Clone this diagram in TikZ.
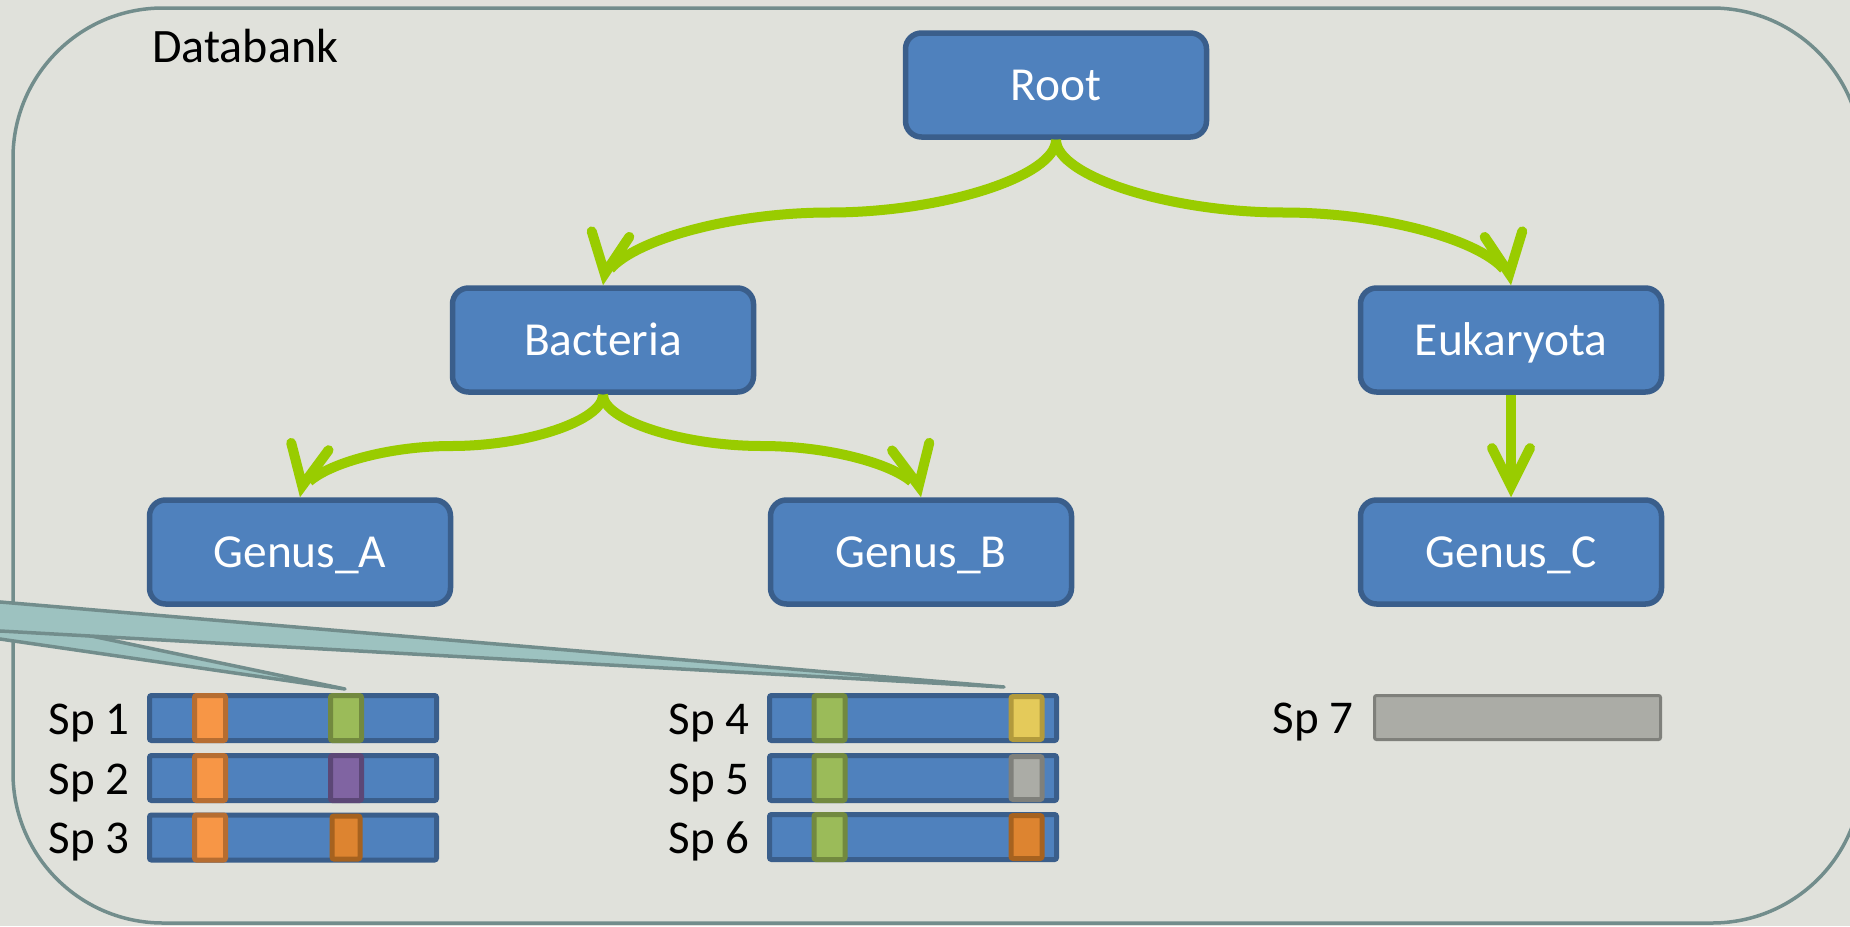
\documentclass[tikz,border=0pt]{standalone}
\usepackage{fontspec}
\setmainfont{Carlito}
\usetikzlibrary{arrows.meta,bending,calc}
\definecolor{bgc}{HTML}{E0E1DB}
\definecolor{frame}{HTML}{728D8C}
\definecolor{callfill}{HTML}{9DC2C0}
\definecolor{nodeblue}{HTML}{4F81BD}
\definecolor{nodeedge}{HTML}{3A5E8B}
\definecolor{agreen}{HTML}{99CC00}
\definecolor{orfill}{HTML}{F79646}
\definecolor{oredge}{HTML}{B66D31}
\definecolor{grfill}{HTML}{9BBB59}
\definecolor{gredge}{HTML}{72893F}
\definecolor{pufill}{HTML}{8064A2}
\definecolor{puedge}{HTML}{5C4776}
\definecolor{dofill}{HTML}{DD8430}
\definecolor{doedge}{HTML}{A6621F}
\definecolor{yefill}{HTML}{E4CA5A}
\definecolor{yeedge}{HTML}{B29A3C}
\definecolor{gyfill}{HTML}{ABACA6}
\definecolor{gyedge}{HTML}{7F807B}
\tikzset{
  tnode/.style={rounded corners=8pt, fill=nodeblue, draw=nodeedge, line width=2.75pt,
    minimum width=150.5pt, minimum height=52pt, inner sep=0pt, text=white,
    font=\fontsize{23.7}{28}\selectfont, text height=15pt, text depth=0pt},
  lab/.style={inner sep=0pt, font=\fontsize{23.5}{28}\selectfont, anchor=base east},
  bar/.style={rounded corners=1pt, fill=nodeblue, draw=nodeedge, line width=2.5pt,
    minimum width=143.5pt, minimum height=22.5pt, inner sep=0pt},
  mk/.style={rounded corners=1pt, line width=2.5pt, minimum width=15.5pt,
    minimum height=22.5pt, inner sep=0pt},
  conn/.style={draw=agreen, line width=5pt,
    -{Straight Barb[length=20pt, width=19pt, line cap=round, line join=miter, flex=0.8]}},
  sconn/.style={draw=agreen, line width=5pt,
    -{Straight Barb[length=19pt, width=19pt, line cap=round, line join=miter]}},
  callout/.style={fill=callfill, draw=frame, line width=1.75pt, line join=round}
}
\newcommand\curvconn[2]{%
  \path (#1) coordinate (cA) (#2) coordinate (cB);
  \path ($(cA)!0.5!(cB)$) coordinate (cM) ($(cA)!0.25!(cB)$) coordinate (cQ)
        ($(cA)!0.75!(cB)$) coordinate (cR);
  \draw[conn] (cA) .. controls (cA |- cQ) and (cQ |- cM) .. (cM)
              .. controls (cR |- cM) and (cB |- cR) .. (cB);
}
\begin{document}
\begin{tikzpicture}[x=0.5pt, y=-0.5pt]
\useasboundingbox (0,0) rectangle (1850,926);
\clip (0,0) rectangle (1850,926);
\fill[bgc] (0,0) rectangle (1850,926);
% databank frame
\draw[frame, line width=1.75pt, rounded corners=75pt] (13,8) rectangle (1862,923);
\node[inner sep=0pt, font=\fontsize{24}{28}\selectfont, anchor=base west] (db) at (152,62) {Databank};

% taxonomy nodes
\node[tnode] (root) at (1056,85) {Root};
\node[tnode] (bact) at (603,340) {Bacteria};
\node[tnode] (euk) at (1511,340) {Eukaryota};
\node[tnode] (ga) at (300,552) {Genus\_A};
\node[tnode] (gb) at (921,552) {Genus\_B};
\node[tnode] (gc) at (1511,552) {Genus\_C};

\curvconn{root.south}{bact.north}
\curvconn{root.south}{euk.north}
\curvconn{bact.south}{ga.north}
\curvconn{bact.south}{gb.north}
\draw[sconn] (euk.south) -- (gc.north);

% species bars
\node[bar] (b1) at (293,718) {};
\node[bar] (b2) at (293,778) {};
\node[bar] (b3) at (293,837.5) {};
\node[bar] (b4) at (913,718) {};
\node[bar] (b5) at (913,778) {};
\node[bar] (b6) at (913,837) {};
\node[mk, fill=orfill, draw=oredge] (m11) at (210,718) {};
\node[mk, fill=grfill, draw=gredge] (m12) at (346,718) {};
\node[mk, fill=orfill, draw=oredge] (m21) at (210,778) {};
\node[mk, fill=pufill, draw=puedge] (m22) at (346,778) {};
\node[mk, fill=orfill, draw=oredge] (m31) at (210,837.5) {};
\node[mk, fill=dofill, draw=doedge, minimum width=14pt, minimum height=21.5pt] (m32) at (346,837.5) {};
\node[mk, fill=grfill, draw=gredge] (m41) at (829.5,718) {};
\node[mk, fill=yefill, draw=yeedge, minimum height=21.5pt] (m42) at (1026.5,718) {};
\node[mk, fill=grfill, draw=gredge] (m51) at (829.5,778) {};
\node[mk, fill=gyfill, draw=gyedge, minimum height=21.5pt] (m52) at (1026.5,778) {};
\node[mk, fill=grfill, draw=gredge] (m61) at (829.5,837) {};
\node[mk, fill=dofill, draw=doedge, minimum height=21.5pt] (m62) at (1026.5,837) {};
\node[rounded corners=1pt, fill=gyfill, draw=gyedge, line width=1.5pt, minimum width=143pt,
  minimum height=22pt, inner sep=0pt] (b7) at (1517.5,717.5) {};

\node[lab] (l1) at (130,734) {Sp 1};
\node[lab] (l2) at (130,794) {Sp 2};
\node[lab] (l3) at (130,853) {Sp 3};
\node[lab] (l4) at (750,734) {Sp 4};
\node[lab] (l5) at (750,794) {Sp 5};
\node[lab] (l6) at (750,853) {Sp 6};
\node[lab] (l7) at (1354,733) {Sp 7};

% callouts
\coordinate (t1) at (345,689);
\coordinate (t2) at (1004,687);
\filldraw[callout] (-100,596) -- (t1) -- (-100,624.5) -- cycle;
\filldraw[callout] (-100,593.5) -- (t2) -- (-100,625.4) -- cycle;
\end{tikzpicture}
\end{document}
